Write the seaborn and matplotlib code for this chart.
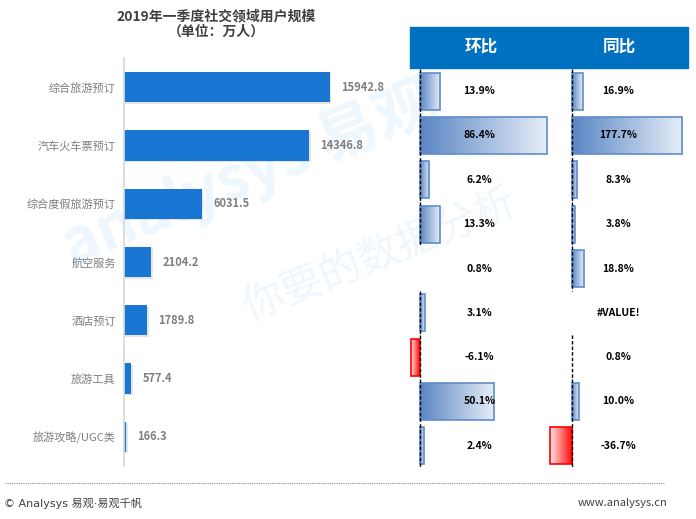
import numpy as np
import seaborn as sns
import matplotlib.pyplot as plt
import matplotlib.patheffects as pe
from matplotlib.colors import LinearSegmentedColormap
from matplotlib.patches import Rectangle
from matplotlib.lines import Line2D
from matplotlib.transforms import blended_transform_factory

# data
cats = ["综合旅游预订", "汽车火车票预订", "综合度假旅游预订", "航空服务", "酒店预订", "旅游工具", "旅游攻略/UGC类"]
users = [15942.8, 14346.8, 6031.5, 2104.2, 1789.8, 577.4, 166.3]

ring = [13.9, 86.4, 6.2, 13.3, 0.8, 3.1, -6.1, 50.1, 2.4]
yoy = [16.9, 177.7, 8.3, 3.8, 18.8, np.nan, 0.8, 10.0, -36.7]
yoy_text = ["16.9%", "177.7%", "8.3%", "3.8%", "18.8%", "#VALUE!", "0.8%", "10.0%", "-36.7%"]
ring_text = [f"{v:.1f}%" for v in ring]
ring_gaps = [4]
yoy_gaps = [5]

sns.set_theme(style="white")
plt.rcParams['font.family'] = ['Noto Sans CJK SC', 'DejaVu Sans']

W, H = 696, 519
fig = plt.figure(figsize=(W / 100, H / 100), dpi=100)


def box(x0, y0, x1, y1):
    return [x0 / W, 1 - y1 / H, (x1 - x0) / W, (y1 - y0) / H]


# watermark
fig.text(250 / W, 1 - 175 / H, "analysys 易观", fontsize=44, color="#eef7fd", rotation=22,
         ha="center", va="center", fontweight="bold", zorder=-1)
fig.text(380 / W, 1 - 255 / H, "你要的数据分析", fontsize=30, color="#eef7fd", rotation=22,
         ha="center", va="center", zorder=-1)

# left: user scale
ax1 = fig.add_axes(box(124, 58, 400, 466))
ax1.set_facecolor("none")
sns.barplot(x=users, y=cats, orient="h", color="#1976D2", saturation=1, width=0.52,
            linewidth=0, ax=ax1)
for p in ax1.patches:
    p.set_path_effects([pe.SimplePatchShadow(offset=(1, -1), shadow_rgbFace="gray", alpha=0.2),
                        pe.Normal()])
for i, v in enumerate(users):
    ax1.annotate(f"{v:.1f}", (v, i), xytext=(8, 0), textcoords="offset points",
                 ha="left", va="center", fontsize=8, fontweight="bold", color="#7f7f7f")
ax1.set_xlim(0, 21360)
ax1.set_ylim(6.5, -0.5)
ax1.set_xlabel("")
ax1.set_ylabel("")
ax1.set_xticks([])
for s in ["top", "right", "bottom"]:
    ax1.spines[s].set_visible(False)
ax1.spines["left"].set_color("#d9d9d9")
ax1.tick_params(axis="y", length=0, pad=6, labelsize=8, labelcolor="#7f7f7f")

fig.text(216 / W, 1 - 16 / H, "2019年一季度社交领域用户规模", ha="center", va="center",
         fontsize=10, fontweight="bold", color="#404040")
fig.text(216 / W, 1 - 32 / H, "（单位：万人）", ha="center", va="center",
         fontsize=10, fontweight="bold", color="#404040")

# right: header
fig.add_artist(Rectangle((410 / W, 1 - 68 / H), 278 / W, 41 / H, transform=fig.transFigure,
                         color="#0070C0", zorder=1))
fig.text(481 / W, 1 - 47 / H, "环比", ha="center", va="center", fontsize=12,
         fontweight="bold", color="white")
fig.text(619 / W, 1 - 47 / H, "同比", ha="center", va="center", fontsize=12,
         fontweight="bold", color="white")

pos_cmap = LinearSegmentedColormap.from_list("pos", ["#5a86c5", "#e6edf7"])
neg_cmap = LinearSegmentedColormap.from_list("neg", ["#ffe8e8", "#ff0000"])
grad = np.linspace(0, 1, 256).reshape(1, -1)


def ratio_panel(ax, vals, texts, gaps, xlim):
    ax.set_facecolor("none")
    rows = list(range(len(vals)))
    sns.barplot(x=vals, y=rows, orient="h", width=0.84, color="white", ax=ax)
    ax.set_xlim(*xlim)
    px_per_unit = ax.bbox.width / (xlim[1] - xlim[0])
    for p in list(ax.patches):
        w = p.get_width()
        if not np.isfinite(w):
            continue
        p.set_facecolor("none")
        if abs(w) * px_per_unit < 2:
            # too thin to show in the reference
            p.set_linewidth(0)
            continue
        x0, x1 = sorted([p.get_x(), p.get_x() + w])
        y0, y1 = p.get_y(), p.get_y() + p.get_height()
        neg = (x0 < 0)
        p.set_edgecolor("#ff0000" if neg else "#5f8ccb")
        p.set_linewidth(1.2)
        p.set_zorder(3)
        im = ax.imshow(grad, extent=(x0, x1, y1, y0), aspect="auto",
                       cmap=neg_cmap if neg else pos_cmap, zorder=2, interpolation="bilinear")
        im.set_clip_path(p)
    for i in rows:
        if i not in gaps:
            ax.vlines(0, i - 0.5, i + 0.5, colors="black", linestyles=(0, (2.5, 1.5)),
                      linewidth=1, zorder=4)
    tr = blended_transform_factory(ax.transAxes, ax.transData)
    for i, t in enumerate(texts):
        ax.text(0.5, i, t, transform=tr, ha="center", va="center", fontsize=7.5,
                fontweight="bold", color="black", zorder=5)
    ax.set_xlim(*xlim)
    ax.set_ylim(len(vals) - 0.5, -0.5)
    ax.axis("off")


ax2 = fig.add_axes(box(410, 69, 549, 468))
ratio_panel(ax2, ring, ring_text, ring_gaps, (-6.8, 87.8))
ax3 = fig.add_axes(box(549, 69, 688, 468))
ratio_panel(ax3, yoy, yoy_text, yoy_gaps, (-37.6, 186.6))

# footer
fig.add_artist(Line2D([5 / W, 665 / W], [1 - 483 / H] * 2, transform=fig.transFigure,
                      linestyle=(0, (1, 1)), color="#8c8c8c", linewidth=0.8))
fig.text(4 / W, 1 - 503 / H, "© Analysys 易观·易观千帆", ha="left", va="center",
         fontsize=8, color="#404040", family=["DejaVu Sans", "Noto Sans CJK SC"])
fig.text(667 / W, 1 - 503 / H, "www.analysys.cn", ha="right", va="center",
         fontsize=8, color="#404040")

fig.savefig("out.png", dpi=100)
